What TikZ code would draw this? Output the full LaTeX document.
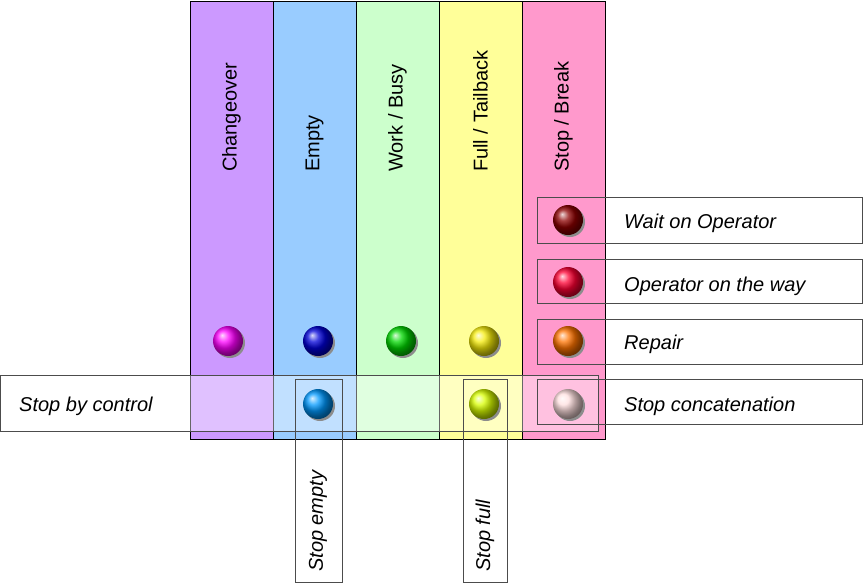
\documentclass[tikz,border=0pt]{standalone}
\usepackage{fontspec}
\setmainfont{Liberation Sans}
\usetikzlibrary{positioning}

\definecolor{lavender}{RGB}{204,153,255}
\definecolor{skyblue}{RGB}{153,204,255}
\definecolor{mint}{RGB}{204,255,204}
\definecolor{lemon}{RGB}{255,255,153}
\definecolor{rose}{RGB}{255,153,204}

\tikzset{
  lane/.style={draw=black,thick},
  lanelabel/.style={rotate=90,anchor=west,font=\fontsize{20}{24}\selectfont,inner sep=0pt},
  frame/.style={draw=black!70,thin},
  itext/.style={anchor=west,font=\fontsize{20}{24}\selectfont\itshape,inner sep=0pt},
}

\begin{document}
\begin{tikzpicture}[x=1pt,y=-1pt]
  \useasboundingbox (0,0) rectangle (864,584);
  % lanes
  \foreach \xa/\xb/\c in {190/273/lavender,273/356/skyblue,356/439/mint,439/522/lemon,522/605/rose}
    \filldraw[lane,fill=\c] (\xa,1) rectangle (\xb,439);
  \node[lanelabel] (changeover) at (231.5,172) {Changeover};
  \node[lanelabel] (empty) at (314.5,172) {Empty};
  \node[lanelabel] (work) at (397.5,172) {Work / Busy};
  \node[lanelabel] (full) at (480.5,172) {Full / Tailback};
  \node[lanelabel] (stop) at (563.5,172) {Stop / Break};
  % control band
  \fill[white,opacity=0.4] (0,375) rectangle (598,431);
  \draw[frame] (0,375) rectangle (598,431);
  \node[itext] (control) at (19,406) {Stop by control};
  % right hand frames
  \draw[frame] (537,197) rectangle (862,243);
  \draw[frame] (537,259) rectangle (862,303);
  \draw[frame] (537,319) rectangle (862,364);
  \draw[frame] (537,379) rectangle (862,424);
  \node[itext] (wait) at (624,223) {Wait on Operator};
  \node[itext] (way) at (624,286) {Operator on the way};
  \node[itext] (repair) at (624,344) {Repair};
  \node[itext] (concat) at (624,406) {Stop concatenation};
  % lower frames
  \draw[frame] (295,379) rectangle (342,582);
  \draw[frame] (463,379) rectangle (507,582);
  \node[itext,rotate=90] (sempty) at (318,572) {Stop empty};
  \node[itext,rotate=90] (sfull) at (485,572) {Stop full};
  % lamps
  \foreach \x/\y/\c in {228/341/magenta, 318/341/blue!85!black, 401/341/green!85!black,
      484/341/yellow!85!brown, 568/341/orange!90!red, 568/220/red!55!black,
      568/282/red!80!magenta, 568/404/pink!50!white, 318/404/cyan!60!blue,
      484/404/yellow!85!green}
  {
    \fill[black!45] (\x+2,\y+2) circle (15);
    \shade[ball color=\c] (\x,\y) circle (15);
  }
\end{tikzpicture}
\end{document}
